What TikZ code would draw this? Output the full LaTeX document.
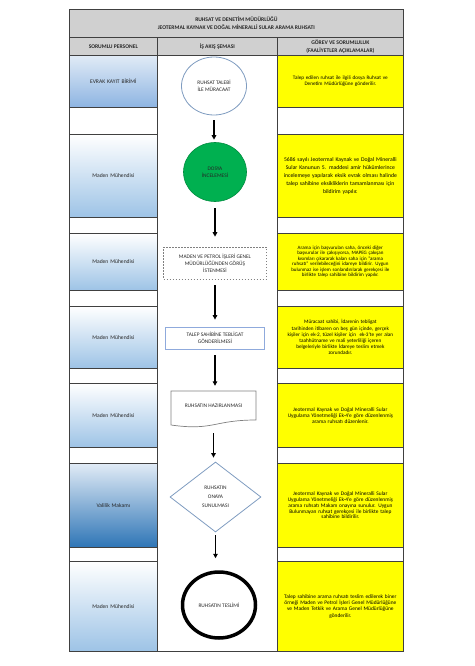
\documentclass[tikz,border=0pt]{standalone}
\usepackage{fontspec}
\setmainfont{Carlito}
\usetikzlibrary{shapes.geometric,arrows.meta}
\definecolor{hdrc}{HTML}{D0D0D0}
\definecolor{ylw}{HTML}{FFFF00}
\definecolor{bluelo}{HTML}{9DC3E6}
\definecolor{bluemid}{HTML}{8DB4E2}
\definecolor{bluetop}{HTML}{E1EBF6}
\definecolor{bluedk}{HTML}{2E75B6}
\definecolor{gridc}{HTML}{404040}
\definecolor{shapeln}{HTML}{7F9CC0}
\definecolor{rectln}{HTML}{8FAADC}
\definecolor{grn}{HTML}{00B050}
\definecolor{txt}{HTML}{262626}
\newcommand\fs[2]{\fontsize{#1}{#2}\selectfont}
\begin{document}
\begin{tikzpicture}[x=1pt,y=-1pt,
  grid/.style={draw=gridc, line width=0.7pt},
  pcell/.style={grid, anchor=north west, inner sep=2pt, text width=84pt, align=center, minimum width=88pt, font=\fs{5.6}{7}, text=txt},
  ycell/.style={grid, fill=ylw, anchor=north west, inner sep=2pt, text width=122pt, align=center, minimum width=126pt, text=black},
  hdr/.style={grid, fill=hdrc, anchor=north west, inner sep=1pt, align=center, font=\bfseries\fs{5.6}{8}, text=txt},
  blank/.style={grid, fill=white, anchor=north west, inner sep=0pt},
  flow/.style={-{Triangle[length=4.5pt,width=4.5pt]}, line width=1.4pt, black},
  shapetxt/.style={align=center, font=\fs{5.4}{7}, text=txt, inner sep=0pt}
]
\useasboundingbox (0,0) rectangle (474,666);
% header
\node[hdr, minimum width=334pt, minimum height=28pt] (title) at (69,9) {RUHSAT VE DENETİM MÜDÜRLÜĞÜ\\JEOTERMAL KAYNAK VE DOĞAL MİNERALLİ SULAR ARAMA RUHSATI};
\node[hdr, minimum width=88pt, minimum height=18pt] (h1) at (69,37) {SORUMLU PERSONEL};
\node[hdr, minimum width=120pt, minimum height=18pt] (h2) at (157,37) {İŞ AKIŞ ŞEMASI};
\node[hdr, minimum width=126pt, minimum height=18pt] (h3) at (277,37) {GÖREV VE SORUMLULUK\\(FAALİYETLER AÇIKLAMALAR)};
% middle column
\draw[grid] (157,55) rectangle (277,651);
% spacer cells
\foreach \a/\b in {107/134, 217/233, 290/306, 368/383, 447/463, 547/561}{
  \draw[grid] (69,\a) rectangle (157,\b);
  \draw[grid] (277,\a) rectangle (403,\b);
}
% personnel cells
\node[pcell, minimum height=52pt, top color=bluetop, bottom color=bluemid] (p1) at (69,55) {EVRAK KAYIT BİRİMİ};
\node[pcell, minimum height=83pt, top color=white, bottom color=bluelo] (p2) at (69,134) {Maden Mühendisi};
\node[pcell, minimum height=57pt, top color=white, bottom color=bluelo] (p3) at (69,233) {Maden Mühendisi};
\node[pcell, minimum height=62pt, top color=white, bottom color=bluelo] (p4) at (69,306) {Maden Mühendisi};
\node[pcell, minimum height=64pt, top color=white, bottom color=bluelo] (p5) at (69,383) {Maden Mühendisi};
\node[pcell, minimum height=84pt, top color=bluetop, bottom color=bluedk] (p6) at (69,463) {Valilik Makamı};
\node[pcell, minimum height=90pt, top color=white, bottom color=bluelo] (p7) at (69,561) {Maden Mühendisi};
% description cells
\node[ycell, minimum height=52pt, font=\fs{5.2}{6}] (g1) at (277,55) {Talep edilen ruhsat ile ilgili dosya Ruhsat ve\\Denetim Müdürlüğüne gönderilir.};
\node[ycell, minimum height=83pt, font=\fs{5.7}{8}] (g2) at (277,134) {5686 sayılı Jeotermal Kaynak ve Doğal Mineralli\\Sular Kanunun 5. maddesi amir hükümlerince\\incelemeye yapılarak eksik evrak olması halinde\\talep sahibine eksikliklerin tamamlanması için\\bildirim yapılır.};
\node[ycell, minimum height=57pt, font=\fs{5.0}{5.5}] (g3) at (277,233) {Arama için başvurulan saha, önceki diğer\\başvurular ile çakışıyorsa, MAPEG çakışan\\kısımları çıkararak kalan saha için "arama\\ruhsatı" verilebileceğini idareye bildirir. Uygun\\bulunmaz ise işlem sonlandırılarak gerekçesi ile\\birlikte talep sahibine bildirim yapılır.};
\node[ycell, minimum height=62pt, font=\fs{5.2}{6.2}] (g4) at (277,306) {Müracaat sahibi, İdarenin tebligat\\tarihinden itibaren on beş gün içinde, gerçek\\kişiler için ek-2, tüzel kişiler için~ ek-3'te yer alan\\taahhütname ve mali yeterliliği içeren\\belgeleriyle birlikte İdareye teslim etmek\\zorundadır.};
\node[ycell, minimum height=64pt, font=\fs{5.4}{6}] (g5) at (277,383) {Jeotermal Kaynak ve Doğal Mineralli Sular\\Uygulama Yönetmeliği Ek-4'e göre düzenlenmiş\\arama ruhsatı düzenlenir.};
\node[ycell, minimum height=84pt, font=\fs{5.4}{5.8}] (g6) at (277,463) {Jeotermal Kaynak ve Doğal Mineralli Sular\\Uygulama Yönetmeliği Ek-4'e göre düzenlenmiş\\arama ruhsatı Makam onayına sunulur. Uygun\\Bulunmayan ruhsat gerekçesi ile birlikte talep\\sahibine bildirilir.};
\node[ycell, minimum height=90pt, font=\fs{5.4}{6.3}] (g7) at (277,561) {Talep sahibine arama ruhsatı teslim edilerek biner\\örneği Maden ve Petrol İşleri Genel Müdürlüğüne\\ve Maden Tetkik ve Arama Genel Müdürlüğüne\\gönderilir.};
% flow shapes
\node[shapetxt, ellipse, draw=shapeln, line width=0.8pt, fill=white, minimum width=65pt, minimum height=58pt] (s1) at (214,86) {RUHSAT TALEBİ\\İLE MÜRACAAT};
\node[shapetxt, ellipse, draw=grn!80!black, line width=0.6pt, fill=grn, minimum width=63pt, minimum height=59pt] (s2) at (215,172) {DOSYA\\İNCELEMESİ};
\node[shapetxt, draw=gray, dash pattern=on 1.5pt off 1.5pt, line width=0.6pt, minimum width=103pt, minimum height=32pt] (s3) at (215,263) {MADEN VE PETROL İŞLERİ GENEL\\MÜDÜRLÜĞÜNDEN GÖRÜŞ\\İSTENMESİ};
\node[shapetxt, draw=rectln, line width=0.8pt, minimum width=99pt, minimum height=22pt] (s4) at (215,338) {TALEP SAHİBİNE TEBLİGAT\\GÖNDERİLMESİ};
\draw[draw=gray, line width=0.7pt] (171,391) -- (256,391) -- (256,420) .. controls (213.5,420) and (213.5,431) .. (171,425) -- cycle;
\node[shapetxt, minimum width=85pt, minimum height=30pt] (s5) at (213.5,406) {RUHSATIN HAZIRLANMASI};
\node[shapetxt, diamond, aspect=1.3, draw=shapeln, line width=0.8pt, minimum width=91pt, minimum height=70pt, font=\fs{5.4}{9}] (s6) at (215.5,497) {RUHSATIN\\ONAYA\\SUNULMASI};
\node[shapetxt, ellipse, draw=black, line width=3.5pt, minimum width=73pt, minimum height=66pt] (s7) at (219,605) {RUHSATIN TESLİMİ};
% arrows
\draw[flow, shorten <=5pt, shorten >=2.5pt] (s1.south) -- (s1.south |- s2.north);
\draw[flow, shorten <=6.5pt, shorten >=10pt] (s2.south) -- (s2.south |- s3.north);
\draw[flow, shorten <=6pt, shorten >=7pt] (s3.south) -- (s3.south |- s4.north);
\draw[flow, shorten <=6pt, shorten >=5pt] (s4.south) -- (s4.south |- s5.north);
\draw[flow, shorten <=12pt, shorten >=4pt] (s5.south) -- (s5.south |- s6.north);
\draw[flow, shorten <=3pt, shorten >=12pt] (s6.south) -- (s6.south |- s7.north);
\end{tikzpicture}
\end{document}
